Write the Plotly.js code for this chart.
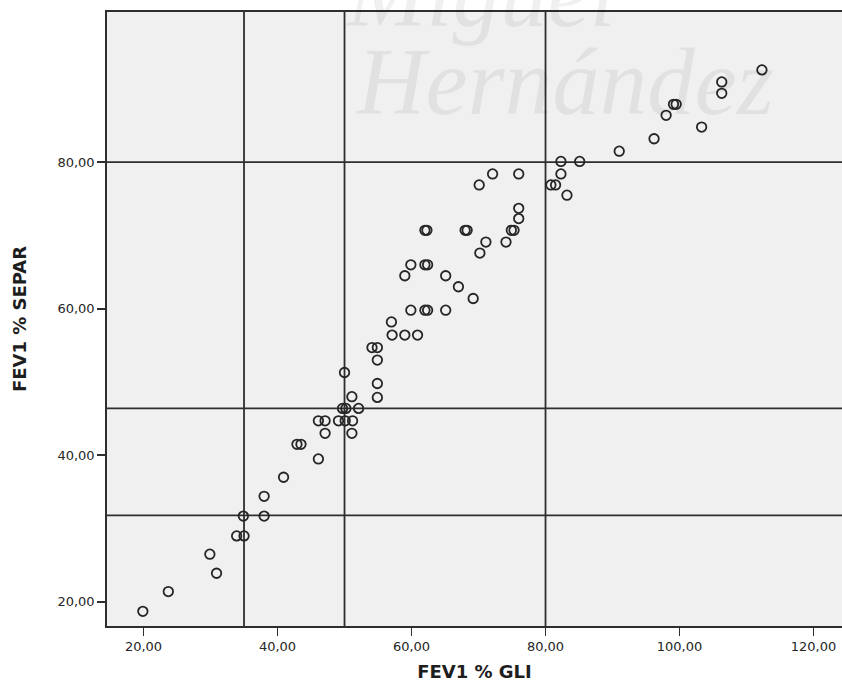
<!DOCTYPE html>
<html><head><meta charset="utf-8">
<script src="https://cdn.plot.ly/plotly-3.0.1.min.js"></script>
<style>html,body{margin:0;padding:0;background:#fff}#chart{width:842px;height:683px}</style>
</head><body><div id="chart"></div>
<script>
// FEV1 % GLI (x) and FEV1 % SEPAR (y)
const gliX = [
  19.9, 23.7, 30.9, 29.9, 33.9, 35.0, 34.9, 38.0, 38.0, 40.9,
  46.1, 42.9, 43.5, 47.1, 51.1, 46.1, 47.1, 49.1, 50.1, 51.2,
  49.7, 50.2, 52.1, 51.1, 54.9, 54.9, 50.0, 54.9, 54.1, 54.9,
  57.1, 59.0, 60.9, 57.0, 59.9, 62.0, 62.4, 65.1, 69.2, 67.0,
  59.0, 65.1, 59.9, 62.0, 62.4, 70.2, 71.1, 74.1, 62.0, 62.3,
  68.0, 68.3, 74.9, 75.3, 76.0, 76.0, 83.2, 70.1, 80.8, 81.5,
  72.1, 76.0, 82.3, 82.3, 85.1, 91.0, 96.2, 103.3, 98.0, 99.1,
  99.5, 106.3, 106.3, 112.3
];
const separY = [
  18.7, 21.4, 23.9, 26.5, 29.0, 29.0, 31.7, 31.7, 34.4, 37.0,
  39.5, 41.5, 41.5, 43.0, 43.0, 44.7, 44.7, 44.7, 44.7, 44.7,
  46.4, 46.4, 46.4, 48.0, 47.9, 49.8, 51.3, 53.0, 54.7, 54.7,
  56.4, 56.4, 56.4, 58.2, 59.8, 59.8, 59.8, 59.8, 61.4, 63.0,
  64.5, 64.5, 66.0, 66.0, 66.0, 67.6, 69.1, 69.1, 70.7, 70.7,
  70.7, 70.7, 70.7, 70.7, 72.3, 73.7, 75.5, 76.9, 76.9, 76.9,
  78.4, 78.4, 78.4, 80.1, 80.1, 81.5, 83.2, 84.8, 86.4, 87.9,
  87.9, 89.4, 90.95, 92.6
];
const xTickVals = [20, 40, 60, 80, 100, 120];
const yTickVals = [20, 40, 60, 80];
const gliCutoffs = [35, 50, 80];
const separCutoffs = [80, 46.4, 31.8];
const xTitle = 'FEV1 % GLI';
const yTitle = 'FEV1 % SEPAR';
const watermarkTop = 'Miguel';
const watermarkMain = 'Hernández';

const lineCol = '#2e2e2e';
const shapes = [];
gliCutoffs.forEach(v => shapes.push({type:'line', xref:'x', yref:'paper', x0:v, x1:v, y0:0, y1:1,
  line:{color:lineCol, width:1.8}, layer:'below'}));
separCutoffs.forEach(v => shapes.push({type:'line', xref:'paper', yref:'y', x0:0, x1:1, y0:v, y1:v,
  line:{color:lineCol, width:1.8}, layer:'below'}));

const trace = {
  type:'scatter', mode:'markers', x:gliX, y:separY, cliponaxis:false,
  marker:{symbol:'circle-open', size:9.5, color:'#262626', line:{width:1.8, color:'#262626'}},
  hoverinfo:'x+y'
};

const tickFont = {family:'DejaVu Sans, sans-serif', size:13, color:'#262626'};
const titleFont = {family:'DejaVu Sans, sans-serif', size:18, color:'#1e1e1e', weight:'bold'};

const layout = {
  width:842, height:683,
  margin:{l:107, r:0, t:12, b:57},
  paper_bgcolor:'#ffffff', plot_bgcolor:'#f0f0f0',
  separators:',.',
  showlegend:false,
  xaxis:{
    range:[14.55, 124.25], tickvals:xTickVals, tickformat:'.2f',
    ticks:'outside', ticklen:8, tickwidth:1.6, tickcolor:lineCol,
    showline:true, linecolor:lineCol, linewidth:1.8, mirror:true,
    showgrid:false, zeroline:false, tickfont:tickFont,
    title:{text:xTitle, font:titleFont, standoff:12}
  },
  yaxis:{
    range:[16.7, 100.5], tickvals:yTickVals, tickformat:'.2f',
    ticks:'outside', ticklen:8, tickwidth:1.6, tickcolor:lineCol,
    showline:true, linecolor:lineCol, linewidth:1.8, mirror:false,
    showgrid:false, zeroline:false, tickfont:tickFont,
    title:{text:yTitle, font:titleFont, standoff:26}
  },
  shapes:shapes,
  annotations:[
    {text:watermarkMain, xref:'paper', yref:'paper', x:0.623, y:0.886, xanchor:'center', yanchor:'middle',
     showarrow:false, font:{family:'Liberation Serif, serif', size:95, color:'rgba(0,0,0,0.06)', style:'italic'}},
    {text:watermarkTop, xref:'paper', yref:'paper', x:0.508, y:1.03, xanchor:'center', yanchor:'middle',
     showarrow:false, font:{family:'Liberation Serif, serif', size:95, color:'rgba(0,0,0,0.06)', style:'italic'}}
  ]
};

Plotly.newPlot('chart', [trace], layout, {displayModeBar:false, staticPlot:true});
</script>
</body></html>
